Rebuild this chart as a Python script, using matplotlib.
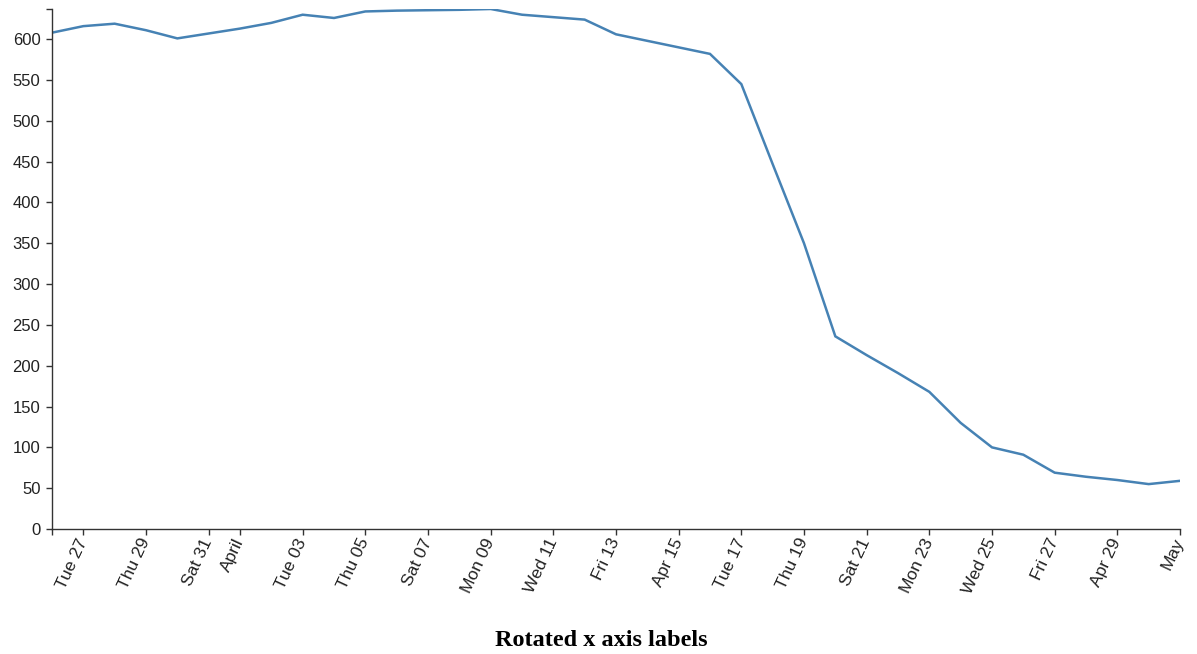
import matplotlib
matplotlib.use("Agg")
import matplotlib.pyplot as plt
import matplotlib.dates as mdates
from datetime import datetime

# daily values (2018)
dates = ["2018-03-26", "2018-03-27", "2018-03-28", "2018-03-29", "2018-03-30",
         "2018-03-31", "2018-04-01", "2018-04-02", "2018-04-03", "2018-04-04",
         "2018-04-05", "2018-04-06", "2018-04-07", "2018-04-08", "2018-04-09",
         "2018-04-10", "2018-04-11", "2018-04-12", "2018-04-13", "2018-04-14",
         "2018-04-15", "2018-04-16", "2018-04-17", "2018-04-18", "2018-04-19",
         "2018-04-20", "2018-04-21", "2018-04-22", "2018-04-23", "2018-04-24",
         "2018-04-25", "2018-04-26", "2018-04-27", "2018-04-28", "2018-04-29",
         "2018-04-30", "2018-05-01"]
values = [608, 616, 619, 611, 601,
          607, 613, 620, 630, 626,
          634, 635, 635.5, 636, 637,
          630, 627, 624, 606, 598,
          590, 582, 545, 447, 350,
          236, 213, 191, 168, 130,
          100, 91, 69, 64, 60,
          55, 59]

tick_dates = ["2018-03-27", "2018-03-29", "2018-03-31", "2018-04-01", "2018-04-03",
              "2018-04-05", "2018-04-07", "2018-04-09", "2018-04-11", "2018-04-13",
              "2018-04-15", "2018-04-17", "2018-04-19", "2018-04-21", "2018-04-23",
              "2018-04-25", "2018-04-27", "2018-04-29", "2018-05-01"]
tick_labels = ["Tue 27", "Thu 29", "Sat 31", "April", "Tue 03",
               "Thu 05", "Sat 07", "Mon 09", "Wed 11", "Fri 13",
               "Apr 15", "Tue 17", "Thu 19", "Sat 21", "Mon 23",
               "Wed 25", "Fri 27", "Apr 29", "May"]
y_ticks = list(range(0, 601, 50))

title = "Rotated x axis labels"

x = [datetime.strptime(d, "%Y-%m-%d") for d in dates]
xt = [datetime.strptime(d, "%Y-%m-%d") for d in tick_dates]

plt.rcParams['font.family'] = ['Liberation Sans', 'DejaVu Sans']

fig = plt.figure(figsize=(11.97, 6.54), dpi=100)
ax = fig.add_axes([52 / 1197, 1 - 529 / 654, (1180 - 52) / 1197, (529 - 9) / 654])

ax.plot(x, values, color="#4682b4", linewidth=1.8, solid_joinstyle="miter")

ax.set_xlim(x[0], x[-1])
ax.set_ylim(0, max(values))

ax.set_xticks(xt)
ax.set_xticklabels(tick_labels)
# outer ticks at the domain ends, like d3
ax.set_xticks([mdates.date2num(x[0]), mdates.date2num(x[-1])], minor=True)
ax.set_yticks(y_ticks)
ax.set_yticks([max(values)], minor=True)

for lab in ax.get_xticklabels():
    lab.set_rotation(65)
    lab.set_ha("right")
    lab.set_va("center")
    lab.set_rotation_mode("anchor")

ax.tick_params(axis="both", which="both", length=6 * 0.72, width=1, color="#333333",
               labelsize=12.5, labelcolor="#222222")
ax.tick_params(axis="x", which="major", pad=3)
ax.tick_params(axis="y", which="major", pad=4, labelsize=12)

for s in ["top", "right"]:
    ax.spines[s].set_visible(False)
for s in ["left", "bottom"]:
    ax.spines[s].set_color("#333333")
    ax.spines[s].set_linewidth(1)

fig.text(601 / 1197, 1 - 640 / 654, title, ha="center", va="center",
         fontsize=17.5, fontweight="bold", family=["Liberation Serif", "DejaVu Serif"])

fig.savefig("out.png", dpi=100)
